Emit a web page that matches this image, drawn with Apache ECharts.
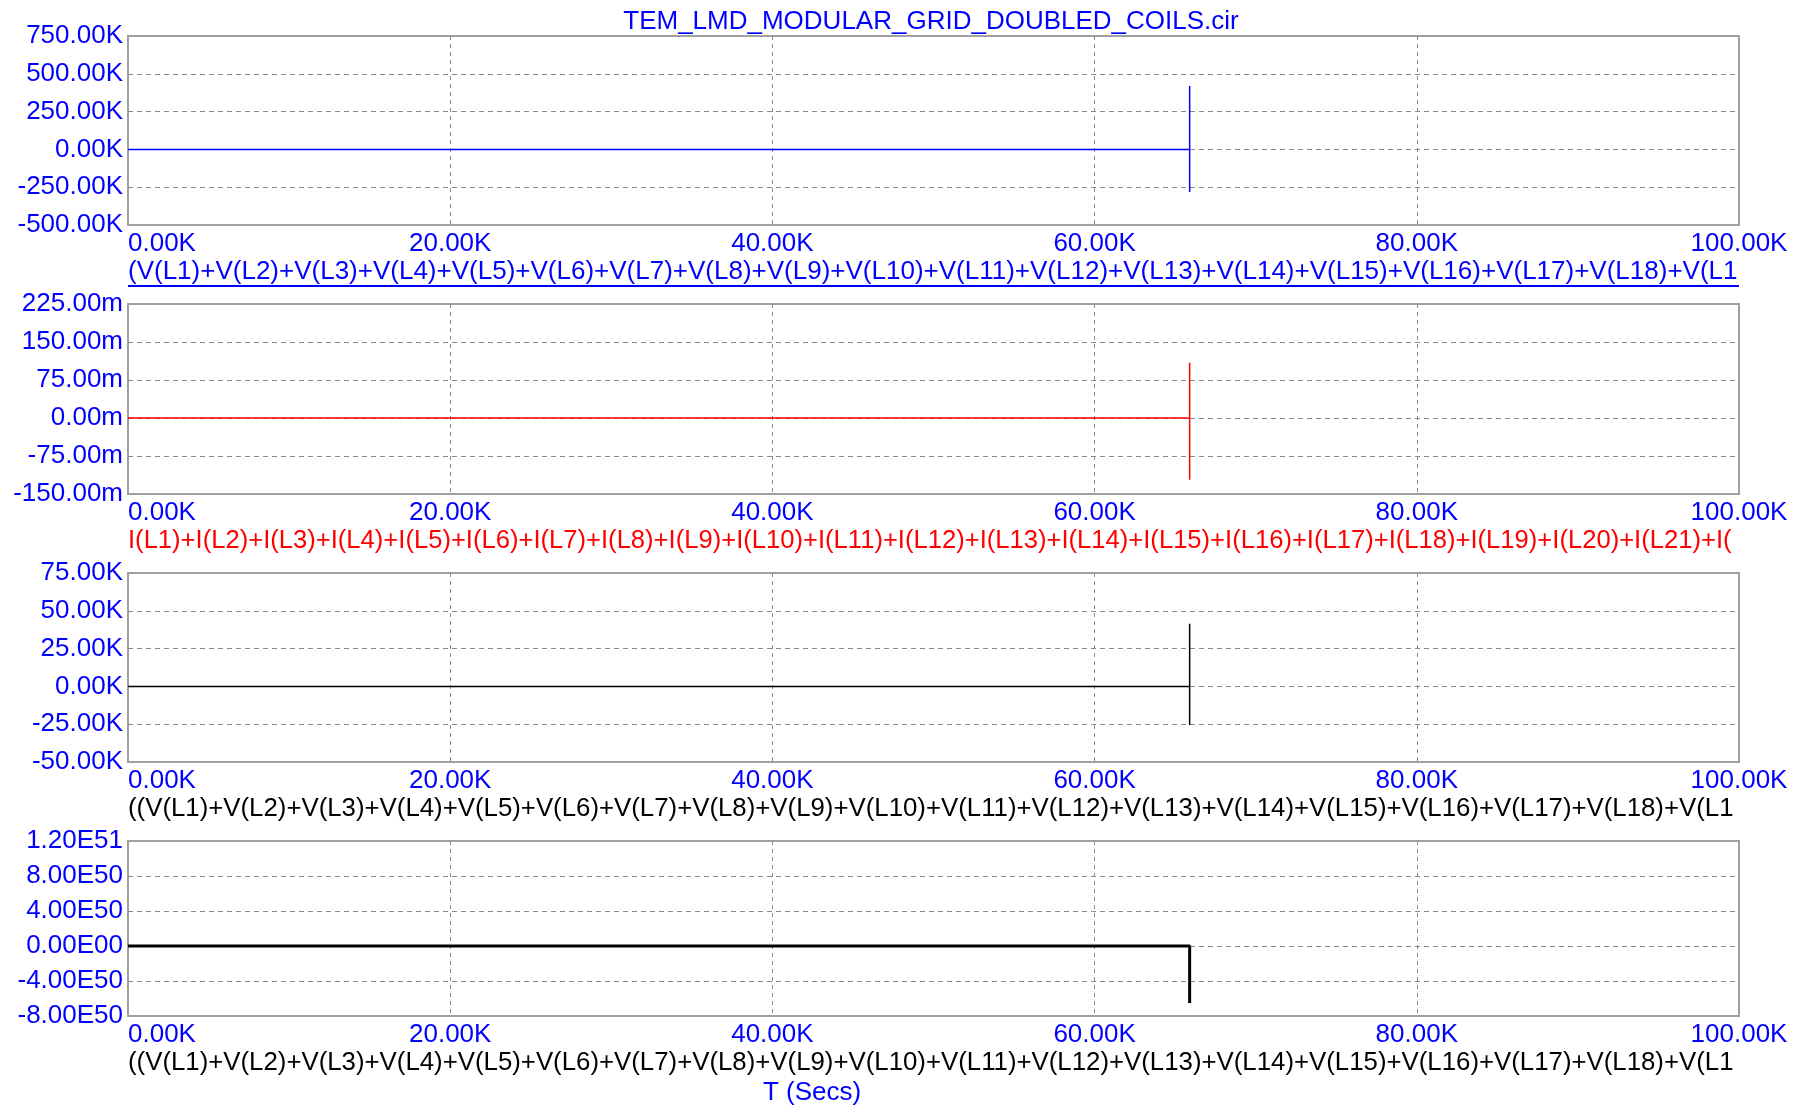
<!DOCTYPE html>
<html>
<head>
<meta charset="utf-8">
<script src="https://cdn.jsdelivr.net/npm/echarts@6/dist/echarts.min.js"></script>
<style>
  html, body { margin: 0; padding: 0; background: #ffffff; }
  #chart { width: 1807px; height: 1109px; }
</style>
</head>
<body>
<div id="chart"></div>
<script>
// Transient run: simulation time (s) and the four probed waveforms
const timeSec = [0, 65900, 65900, 65900];
const coilVoltageSum = [0, 0, 420000, -282000];   // V
const coilCurrentSum = [0, 0, 0.109, -0.122];     // A
const voltageRatio = [0, 0, 41400, -25500];
const powerProduct = [0, 0, 0, -6.5e50];

// Vertical scales of the four panels
const yMin  = [-500000, -0.15, -50000, -8e50];
const yMax  = [750000, 0.225, 75000, 1.2e51];
const yStep = [250000, 0.075, 25000, 4e50];

// Horizontal (time) scale
const tMin = 0, tMax = 100000, tStep = 20000;

// Plot title, trace expressions (as far as they fit under each panel) and time-axis name
const plotTitle = 'TEM_LMD_MODULAR_GRID_DOUBLED_COILS.cir';
const exprVoltage = '(V(L1)+V(L2)+V(L3)+V(L4)+V(L5)+V(L6)+V(L7)+V(L8)+V(L9)+V(L10)+V(L11)+V(L12)+V(L13)+V(L14)+V(L15)+V(L16)+V(L17)+V(L18)+V(L1';
const exprCurrent = 'I(L1)+I(L2)+I(L3)+I(L4)+I(L5)+I(L6)+I(L7)+I(L8)+I(L9)+I(L10)+I(L11)+I(L12)+I(L13)+I(L14)+I(L15)+I(L16)+I(L17)+I(L18)+I(L19)+I(L20)+I(L21)+I(';
const exprRatio = '((V(L1)+V(L2)+V(L3)+V(L4)+V(L5)+V(L6)+V(L7)+V(L8)+V(L9)+V(L10)+V(L11)+V(L12)+V(L13)+V(L14)+V(L15)+V(L16)+V(L17)+V(L18)+V(L1';
const exprProduct = '((V(L1)+V(L2)+V(L3)+V(L4)+V(L5)+V(L6)+V(L7)+V(L8)+V(L9)+V(L10)+V(L11)+V(L12)+V(L13)+V(L14)+V(L15)+V(L16)+V(L17)+V(L18)+V(L1';
const xAxisName = 'T (Secs)';

const FONT = '"Liberation Sans", Arial, sans-serif';
const FS = 26;
const BLUE = '#0000ff';

const PLOT_LEFT = 128, PLOT_W = 1611;
const panels = [
  { top: 36,  height: 189, color: '#0000ff', width: 1.5, data: coilVoltageSum, fmt: 'K' },
  { top: 304, height: 190, color: '#ff0000', width: 1.5, data: coilCurrentSum, fmt: 'm' },
  { top: 573, height: 189, color: '#000000', width: 1.5, data: voltageRatio,   fmt: 'K' },
  { top: 841, height: 175, color: '#000000', width: 3,   data: powerProduct,   fmt: 'E' }
];

function clean(v) { return Math.abs(v) < 1e-12 ? 0 : v; }
function fmtK(v) { return clean(Math.round(v) / 1000).toFixed(2) + 'K'; }
function fmtM(v) { return clean(Math.round(v * 1e6) / 1000).toFixed(2) + 'm'; }
function fmtE(v) {
  if (Math.abs(v) < 1e30) return '0.00E00';
  const e = Math.floor(Math.log10(Math.abs(v)) + 1e-9);
  const m = v / Math.pow(10, e);
  return m.toFixed(2) + 'E' + String(e).padStart(2, '0');
}
const fmts = { K: fmtK, m: fmtM, E: fmtE };

const grids = [], xAxes = [], yAxes = [], series = [];
panels.forEach((p, i) => {
  grids.push({
    left: PLOT_LEFT, width: PLOT_W, top: p.top, height: p.height,
    show: true, borderColor: '#a0a0a0', borderWidth: 2, backgroundColor: 'transparent'
  });
  xAxes.push({
    type: 'value', gridIndex: i, min: tMin, max: tMax, interval: tStep,
    axisLine: { show: false }, axisTick: { show: false },
    axisLabel: {
      color: BLUE, fontSize: FS, fontFamily: FONT, margin: 5.5,
      formatter: fmtK, alignMinLabel: 'left', showMinLabel: true, showMaxLabel: true
    },
    splitLine: {
      show: true, showMinLine: false, showMaxLine: false,
      lineStyle: { color: '#8a8a8a', width: 1, type: [4, 4] }
    }
  });
  yAxes.push({
    type: 'value', gridIndex: i, min: yMin[i], max: yMax[i], interval: yStep[i],
    axisLine: { show: false }, axisTick: { show: false },
    axisLabel: {
      color: BLUE, fontSize: FS, fontFamily: FONT, margin: 5, padding: [3, 0, 0, 0],
      formatter: fmts[p.fmt], showMinLabel: true, showMaxLabel: true
    },
    splitLine: {
      show: true, showMinLine: false, showMaxLine: false,
      lineStyle: { color: '#8a8a8a', width: 1, type: [5, 4] }
    }
  });
  series.push({
    type: 'line', xAxisIndex: i, yAxisIndex: i,
    data: timeSec.map((t, k) => [t, p.data[k]]),
    showSymbol: false, symbol: 'none', animation: false,
    lineStyle: { color: p.color, width: p.width }
  });
});

function exprText(text, y, color, size) {
  return {
    type: 'text', x: PLOT_LEFT, y: y, silent: true,
    style: {
      text: text, fill: color, fontSize: size, fontFamily: FONT,
      align: 'left', verticalAlign: 'middle'
    }
  };
}

const chart = echarts.init(document.getElementById('chart'), null, { renderer: 'canvas' });
chart.setOption({
  animation: false,
  backgroundColor: '#ffffff',
  grid: grids,
  xAxis: xAxes,
  yAxis: yAxes,
  series: series,
  graphic: [
    {
      type: 'text', x: 931, y: 22, silent: true,
      style: { text: plotTitle, fill: BLUE, fontSize: FS, fontFamily: FONT, align: 'center', verticalAlign: 'middle' }
    },
    exprText(exprVoltage, 271.5, BLUE, 26),
    {
      type: 'line', silent: true,
      shape: { x1: PLOT_LEFT, y1: 286, x2: PLOT_LEFT + PLOT_W, y2: 286 },
      style: { stroke: BLUE, lineWidth: 2 }
    },
    exprText(exprCurrent, 540.5, '#ff0000', 25.6),
    exprText(exprRatio, 808.5, '#000000', 25.8),
    exprText(exprProduct, 1062.5, '#000000', 25.8),
    {
      type: 'text', x: 812, y: 1092.5, silent: true,
      style: { text: xAxisName, fill: BLUE, fontSize: FS, fontFamily: FONT, align: 'center', verticalAlign: 'middle' }
    }
  ]
});
</script>
</body>
</html>
